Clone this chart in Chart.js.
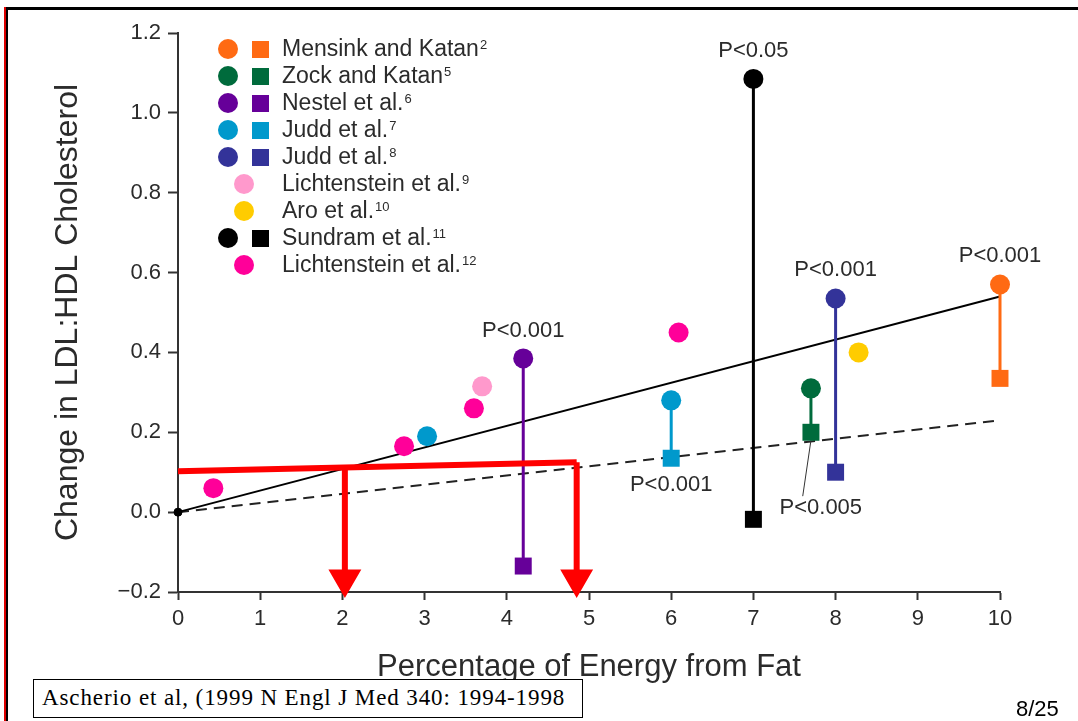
<!DOCTYPE html>
<html>
<head>
<meta charset="utf-8">
<script src="https://cdn.jsdelivr.net/npm/chart.js@4.4.1/dist/chart.umd.min.js"></script>
<style>
  body { margin: 0; background: #fff; }
  #wrap { position: relative; width: 1078px; height: 721px; overflow: hidden; }
  #chart { position: absolute; left: 0; top: 0; }
  .frame-red { position: absolute; left: 4px; top: 7px; width: 2px; height: 714px; background: #d00; }
  .frame-left { position: absolute; left: 6px; top: 7px; width: 2px; height: 714px; background: #000; }
  .frame-top { position: absolute; left: 6px; top: 7px; width: 1072px; height: 3px; background: #000; }
  .cite {
    position: absolute; left: 33px; top: 679px; width: 550px; height: 39px;
    border: 1.5px solid #000; background: #fff; box-sizing: border-box;
    font: 23px "Liberation Serif", "Times New Roman", serif; color: #000;
    letter-spacing: 0.9px; line-height: 36px; padding-left: 8px; white-space: nowrap;
  }
  .page { position: absolute; left: 1016px; top: 696px; font: 22px "Liberation Sans", Arial, sans-serif; color: #000; }
</style>
</head>
<body>
<div id="wrap">
  <canvas id="chart" width="1078" height="721"></canvas>
  <div class="frame-red"></div>
  <div class="frame-left"></div>
  <div class="frame-top"></div>
  <div class="cite">Ascherio et al, (1999 N Engl J Med 340: 1994-1998</div>
  <div class="page">8/25</div>
</div>
<script>
"use strict";

// studies (legend order)
const studies = [
  "Mensink and Katan",
  "Zock and Katan",
  "Nestel et al.",
  "Judd et al.",
  "Judd et al.",
  "Lichtenstein et al.",
  "Aro et al.",
  "Sundram et al.",
  "Lichtenstein et al.",
];
const refs = ["2", "5", "6", "7", "8", "9", "10", "11", "12"];
const studyColors = [
  "#ff6a13",
  "#006b3c",
  "#660099",
  "#0099cc",
  "#333399",
  "#ff99cc",
  "#ffcc00",
  "#000000",
  "#ff0099",
];

// circles: change vs percentage of energy
const circleX = [[10], [7.7], [4.2], [3.03, 6.0], [8.0], [3.7], [8.28], [7.0], [0.43, 2.75, 3.6, 6.09]];
const circleY = [[0.57], [0.31], [0.385], [0.19, 0.28], [0.535], [0.315], [0.4], [1.085], [0.06, 0.165, 0.26, 0.45]];
// squares (null = study has no square)
const squareX = [10, 7.7, 4.2, 6.0, 8.0, null, null, 7.0, null];
const squareY = [0.335, 0.2, -0.135, 0.135, 0.1, null, null, -0.018, null];

// regression lines
const fitX = [0, 10];
const fitSolid = [0, 0.54];
const fitDashed = [0, 0.23];

// p values
const pText = ["P<0.05", "P<0.001", "P<0.001", "P<0.001", "P<0.001", "P<0.005"];
const pX = [7.0, 4.2, 8.0, 10.0, 6.0, 7.82];
const pY = [1.155, 0.455, 0.607, 0.642, 0.068, 0.01];
const leaderX = [7.7, 7.6];
const leaderY = [0.18, 0.04];

// red overlay
const markX = [0, 4.85];
const markY = [0.1025, 0.125];
const arrowX = [2.03, 4.85];
const arrowTop = [0.112, 0.125];
const arrowTip = -0.1675;

// axis ticks
const xTicks = [0, 1, 2, 3, 4, 5, 6, 7, 8, 9, 10];
const yTicks = [-0.2, 0, 0.2, 0.4, 0.6, 0.8, 1.0, 1.2];

const FONT = "'Liberation Sans', Arial, Helvetica, sans-serif";
const INK = "#2b2b2b";
Chart.defaults.font.family = FONT;
Chart.defaults.color = INK;

const xy = (xs, ys) => xs.map((x, i) => ({ x: x, y: ys[i] }));

// build the datasets
const redSets = [
  {
    data: xy(markX, markY),
    showLine: true, borderColor: "#ff0000", borderWidth: 6, pointRadius: 0,
  },
];
arrowX.forEach((x, i) => {
  redSets.push({
    data: xy([x, x], [arrowTop[i], arrowTip]),
    showLine: true, borderColor: "#ff0000", borderWidth: 6,
    pointStyle: "triangle", pointRotation: 180, pointRadius: [0, 13],
    backgroundColor: "#ff0000", borderCapStyle: "butt",
  });
});

const circleSets = [];
const pairSets = [];
studies.forEach((name, i) => {
  circleSets.push({
    data: xy(circleX[i], circleY[i]),
    pointStyle: "circle", pointRadius: 10, pointBorderWidth: 0,
    backgroundColor: studyColors[i], borderColor: studyColors[i],
  });
  if (squareX[i] !== null) {
    const k = circleX[i].indexOf(squareX[i]);
    pairSets.push({
      data: xy([squareX[i], squareX[i]], [circleY[i][k], squareY[i]]),
      showLine: true, borderColor: studyColors[i], borderWidth: 3,
      pointStyle: "rect", pointRadius: [0, 12], pointBorderWidth: 0,
      backgroundColor: studyColors[i],
    });
  }
});

const lineSets = [
  {
    data: xy(leaderX, leaderY),
    showLine: true, borderColor: "#333", borderWidth: 1, pointRadius: 0,
  },
  {
    data: [{ x: 0, y: 0 }],
    pointRadius: 4, backgroundColor: "#000", borderColor: "#000",
  },
  {
    data: xy(fitX, fitSolid),
    showLine: true, borderColor: "#000", borderWidth: 2, pointRadius: 0,
  },
  {
    data: xy(fitX, fitDashed),
    showLine: true, borderColor: "#222", borderWidth: 2, borderDash: [11, 7], pointRadius: 0,
  },
];

const datasets = redSets.concat(circleSets, pairSets, lineSets).map((d) => {
  d.clip = false;
  return d;
});

// legend with circle + square markers, and p value labels
const extras = {
  id: "extras",
  afterDatasetsDraw(chart) {
    const c = chart.ctx;
    const sx = chart.scales.x;
    const sy = chart.scales.y;
    c.save();
    c.fillStyle = INK;
    c.textAlign = "center";
    c.textBaseline = "middle";
    c.font = "22px " + FONT;
    pText.forEach((t, i) => {
      c.fillText(t, sx.getPixelForValue(pX[i]), sy.getPixelForValue(pY[i]));
    });

    // legend
    const rowTop = 49;
    const rowGap = 27;
    studies.forEach((name, i) => {
      const y = rowTop + i * rowGap;
      c.fillStyle = studyColors[i];
      c.beginPath();
      const cx = squareX[i] !== null ? 228 : 244;
      c.arc(cx, y, 10, 0, Math.PI * 2);
      c.fill();
      if (squareX[i] !== null) c.fillRect(252, y - 8, 17, 17);
      c.fillStyle = INK;
      c.textAlign = "left";
      c.textBaseline = "middle";
      c.font = "23px " + FONT;
      c.fillText(name, 282, y + 1);
      const w = c.measureText(name).width;
      c.font = "13px " + FONT;
      c.fillText(refs[i], 282 + w + 1, y - 4);
    });
    c.restore();
  },
};

new Chart(document.getElementById("chart"), {
  type: "scatter",
  data: { datasets: datasets },
  options: {
    responsive: false,
    animation: false,
    layout: { padding: { left: 0, top: 33, right: 78, bottom: 0 } },
    plugins: { legend: { display: false }, tooltip: { enabled: false } },
    scales: {
      x: {
        type: "linear", min: 0, max: 10,
        afterFit: (s) => { s.height = 129; },
        afterBuildTicks: (s) => { s.ticks = xTicks.map((v) => ({ value: v })); },
        ticks: { font: { size: 22 }, color: INK, padding: 6 },
        grid: { drawOnChartArea: false, drawTicks: true, tickLength: 8, color: "#333", tickWidth: 2 },
        border: { display: true, color: "#333", width: 2 },
        title: {
          display: true, text: "Percentage of Energy from Fat",
          font: { size: 31 }, color: INK, padding: { top: 0, bottom: 35 },
        },
      },
      y: {
        type: "linear", min: -0.2, max: 1.2,
        afterFit: (s) => { s.width = 178; },
        afterBuildTicks: (s) => { s.ticks = yTicks.map((v) => ({ value: v })); },
        ticks: {
          font: { size: 22 }, color: INK, padding: 7,
          callback: (v) => (Math.abs(v) < 1e-9 ? "0.0" : v.toFixed(1).replace("-", "\u2212")),
        },
        grid: { drawOnChartArea: false, drawTicks: true, tickLength: 10, color: "#333", tickWidth: 2 },
        border: { display: true, color: "#333", width: 2 },
        title: {
          display: true, text: "Change in LDL:HDL Cholesterol",
          font: { size: 32 }, color: INK, padding: { top: 49, bottom: 0 },
        },
      },
    },
  },
  plugins: [extras],
});
</script>
</body>
</html>
